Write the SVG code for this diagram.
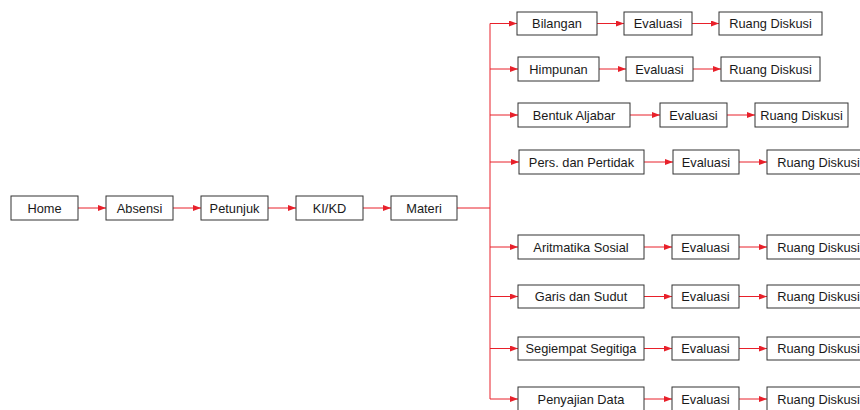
<svg xmlns="http://www.w3.org/2000/svg" width="860" height="410" viewBox="0 0 860 410">
<defs>
<marker id="ah" viewBox="0 0 8 6" refX="8" refY="3" markerWidth="8" markerHeight="6" markerUnits="userSpaceOnUse" orient="auto">
<path d="M0,0 L8,3 L0,6 Z" fill="#e8202a"/>
</marker>
<style>
rect{fill:#fff;stroke:#333;stroke-width:1}
text{font-family:"Liberation Sans",Arial,sans-serif;font-size:12.8px;fill:#1a1a1a;text-anchor:middle;dominant-baseline:central}
.c{fill:none;stroke:#e8202a;stroke-width:1}
.a{marker-end:url(#ah)}
</style>
</defs>
<rect x="0" y="0" width="860" height="410" style="stroke:none"/>
<g id="connectors">
<line class="c a" x1="78" y1="208" x2="106" y2="208"/>
<line class="c a" x1="173" y1="208" x2="201" y2="208"/>
<line class="c a" x1="268" y1="208" x2="296" y2="208"/>
<line class="c a" x1="363" y1="208" x2="391" y2="208"/>
<polyline class="c" points="457,208 490,208"/>
<line class="c" x1="490" y1="23.5" x2="490" y2="399"/>
<line class="c a" x1="490" y1="23.5" x2="517" y2="23.5"/>
<line class="c a" x1="490" y1="69" x2="518" y2="69"/>
<line class="c a" x1="490" y1="115" x2="518" y2="115"/>
<line class="c a" x1="490" y1="162" x2="519" y2="162"/>
<line class="c a" x1="490" y1="247" x2="518" y2="247"/>
<line class="c a" x1="490" y1="296.5" x2="518" y2="296.5"/>
<line class="c a" x1="490" y1="348.5" x2="518" y2="348.5"/>
<line class="c a" x1="490" y1="399" x2="518" y2="399"/>
<line class="c a" x1="597" y1="23.5" x2="624" y2="23.5"/>
<line class="c a" x1="692" y1="23.5" x2="719" y2="23.5"/>
<line class="c a" x1="599" y1="69" x2="626" y2="69"/>
<line class="c a" x1="693" y1="69" x2="721" y2="69"/>
<line class="c a" x1="630" y1="115" x2="660" y2="115"/>
<line class="c a" x1="727" y1="115" x2="755" y2="115"/>
<line class="c a" x1="644" y1="162" x2="673" y2="162"/>
<line class="c a" x1="739" y1="162" x2="767" y2="162"/>
<line class="c a" x1="644" y1="247" x2="672" y2="247"/>
<line class="c a" x1="739" y1="247" x2="767" y2="247"/>
<line class="c a" x1="644" y1="296.5" x2="672" y2="296.5"/>
<line class="c a" x1="739" y1="296.5" x2="767" y2="296.5"/>
<line class="c a" x1="644" y1="348.5" x2="672" y2="348.5"/>
<line class="c a" x1="739" y1="348.5" x2="767" y2="348.5"/>
<line class="c a" x1="644" y1="399" x2="672" y2="399"/>
<line class="c a" x1="739" y1="399" x2="767" y2="399"/>
</g>
<g id="home"><rect x="11" y="196" width="67" height="24"/><text x="44.5" y="208">Home</text></g>
<g id="absensi"><rect x="106" y="196" width="67" height="24"/><text x="139.5" y="208">Absensi</text></g>
<g id="petunjuk"><rect x="201" y="196" width="67" height="24"/><text x="234.5" y="208">Petunjuk</text></g>
<g id="kikd"><rect x="296" y="196" width="67" height="24"/><text x="329.5" y="208">KI/KD</text></g>
<g id="materi"><rect x="391" y="196" width="66" height="24"/><text x="424" y="208">Materi</text></g>

<g id="bilangan"><rect x="517" y="12" width="80" height="23"/><text x="557" y="23.5">Bilangan</text></g>
<g id="eval1"><rect x="624" y="12" width="68" height="23"/><text x="658" y="23.5">Evaluasi</text></g>
<g id="ruang1"><rect x="719" y="12" width="103" height="23"/><text x="770.5" y="23.5">Ruang Diskusi</text></g>

<g id="himpunan"><rect x="518" y="57" width="81" height="24"/><text x="558.5" y="69">Himpunan</text></g>
<g id="eval2"><rect x="626" y="57" width="67" height="24"/><text x="659.5" y="69">Evaluasi</text></g>
<g id="ruang2"><rect x="721" y="57" width="99" height="24"/><text x="770.5" y="69">Ruang Diskusi</text></g>

<g id="aljabar"><rect x="518" y="103" width="112" height="24"/><text x="574" y="115">Bentuk Aljabar</text></g>
<g id="eval3"><rect x="660" y="103" width="67" height="24"/><text x="693.5" y="115">Evaluasi</text></g>
<g id="ruang3"><rect x="755" y="103" width="93" height="24"/><text x="801.5" y="115">Ruang Diskusi</text></g>

<g id="pers"><rect x="519" y="150" width="125" height="24"/><text x="581.5" y="162">Pers. dan Pertidak</text></g>
<g id="eval4"><rect x="673" y="150" width="66" height="24"/><text x="706" y="162">Evaluasi</text></g>
<g id="ruang4"><rect x="767" y="150" width="103" height="24"/><text x="818.5" y="162">Ruang Diskusi</text></g>

<g id="aritmatika"><rect x="518" y="235" width="126" height="24"/><text x="581" y="247">Aritmatika Sosial</text></g>
<g id="eval5"><rect x="672" y="235" width="67" height="24"/><text x="705.5" y="247">Evaluasi</text></g>
<g id="ruang5"><rect x="767" y="235" width="103" height="24"/><text x="818.5" y="247">Ruang Diskusi</text></g>

<g id="garis"><rect x="518" y="285" width="126" height="23"/><text x="581" y="296.5">Garis dan Sudut</text></g>
<g id="eval6"><rect x="672" y="285" width="67" height="23"/><text x="705.5" y="296.5">Evaluasi</text></g>
<g id="ruang6"><rect x="767" y="285" width="103" height="23"/><text x="818.5" y="296.5">Ruang Diskusi</text></g>

<g id="segiempat"><rect x="518" y="337" width="126" height="23"/><text x="581" y="348.5">Segiempat Segitiga</text></g>
<g id="eval7"><rect x="672" y="337" width="67" height="23"/><text x="705.5" y="348.5">Evaluasi</text></g>
<g id="ruang7"><rect x="767" y="337" width="103" height="23"/><text x="818.5" y="348.5">Ruang Diskusi</text></g>

<g id="penyajian"><rect x="518" y="387" width="126" height="24"/><text x="581" y="399">Penyajian Data</text></g>
<g id="eval8"><rect x="672" y="387" width="67" height="24"/><text x="705.5" y="399">Evaluasi</text></g>
<g id="ruang8"><rect x="767" y="387" width="103" height="24"/><text x="818.5" y="399">Ruang Diskusi</text></g>
</svg>
